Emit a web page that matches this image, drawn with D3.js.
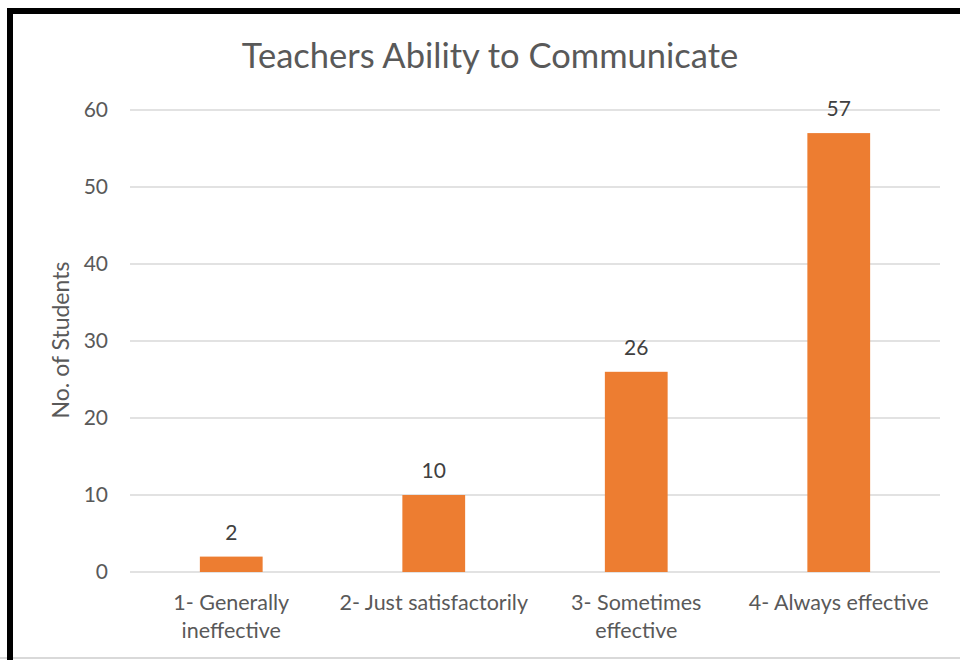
<!DOCTYPE html>
<html>
<head>
<meta charset="utf-8">
<script src="https://cdn.jsdelivr.net/npm/d3@7"></script>
<style>
  body { margin: 0; background: #fff; }
  svg { display: block; font-family: Lato, "Open Sans", sans-serif; }
</style>
</head>
<body>
<svg id="chart" width="960" height="660"></svg>
<script>
// chart data
const categories = ['1- Generally ineffective', '2- Just satisfactorily', '3- Sometimes effective', '4- Always effective'];
const labelLines = [['1- Generally', 'ineffective'], ['2- Just satisfactorily'], ['3- Sometimes', 'effective'], ['4- Always effective']];
const students = [2, 10, 26, 57];
const yTicks = [0, 10, 20, 30, 40, 50, 60];

const svg = d3.select('#chart');
const margin = { top: 110, right: 20, bottom: 88, left: 130 };
const width = +svg.attr('width');
const height = +svg.attr('height');

// frame
svg.append('line')
    .attr('x1', 0).attr('x2', width)
    .attr('y1', 658).attr('y2', 658)
    .attr('stroke', '#d9d9d9').attr('stroke-width', 2);
svg.append('path')
    .attr('d', `M10,660 V11 H${width}`)
    .attr('fill', 'none')
    .attr('stroke', '#000')
    .attr('stroke-width', 6);

const xScale = d3.scaleBand()
    .domain(categories)
    .range([margin.left, width - margin.right])
    .paddingInner(0.69)
    .paddingOuter(0.345);

const yScale = d3.scaleLinear()
    .domain([0, 60])
    .range([height - margin.bottom, margin.top]);

// gridlines
svg.append('g')
    .selectAll('line')
    .data(yTicks)
    .enter().append('line')
    .attr('x1', margin.left)
    .attr('x2', width - margin.right)
    .attr('y1', d => yScale(d))
    .attr('y2', d => yScale(d))
    .attr('stroke', '#d9d9d9')
    .attr('stroke-width', 1.5);

// y tick labels
svg.append('g')
    .selectAll('text')
    .data(yTicks)
    .enter().append('text')
    .attr('x', 108)
    .attr('y', d => yScale(d))
    .attr('dy', '0.35em')
    .attr('text-anchor', 'end')
    .attr('fill', '#595959')
    .style('font-size', '21px')
    .text(d => d);

// bars
svg.append('g')
    .selectAll('rect')
    .data(students)
    .enter().append('rect')
    .attr('x', (d, i) => xScale(categories[i]))
    .attr('y', d => yScale(d))
    .attr('width', xScale.bandwidth())
    .attr('height', d => yScale(0) - yScale(d))
    .attr('fill', '#ed7d31');

// value labels
svg.append('g')
    .selectAll('text')
    .data(students)
    .enter().append('text')
    .attr('x', (d, i) => xScale(categories[i]) + xScale.bandwidth() / 2)
    .attr('y', d => yScale(d) - 17)
    .attr('text-anchor', 'middle')
    .attr('fill', '#404040')
    .style('font-size', '21px')
    .text(d => d);

// category labels
const catG = svg.append('g')
    .selectAll('text')
    .data(labelLines)
    .enter().append('text')
    .attr('x', (d, i) => xScale(categories[i]) + xScale.bandwidth() / 2)
    .attr('y', 610)
    .attr('text-anchor', 'middle')
    .attr('fill', '#595959')
    .style('font-size', '21.5px');
catG.selectAll('tspan')
    .data(d => d)
    .enter().append('tspan')
    .attr('x', function () { return d3.select(this.parentNode).attr('x'); })
    .attr('dy', (d, i) => i === 0 ? 0 : 28)
    .text(d => d);

// axis title
svg.append('text')
    .attr('transform', 'translate(69, 340) rotate(-90)')
    .attr('text-anchor', 'middle')
    .attr('fill', '#595959')
    .style('font-size', '23px')
    .text('No. of Students');

// chart title
svg.append('text')
    .attr('x', 490)
    .attr('y', 68)
    .attr('text-anchor', 'middle')
    .attr('fill', '#595959')
    .style('font-size', '34.5px')
    .text('Teachers Ability to Communicate');
</script>
</body>
</html>
